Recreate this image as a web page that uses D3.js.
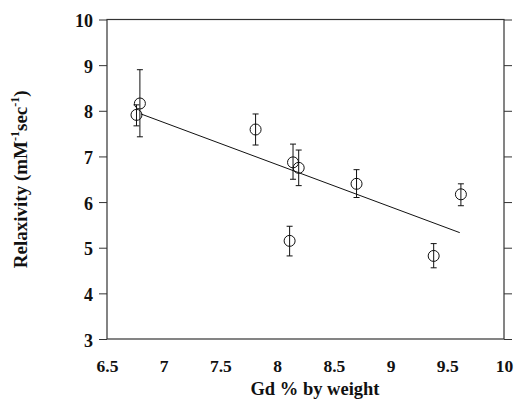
<!DOCTYPE html>
<html>
<head>
<meta charset="utf-8">
<script src="https://cdn.jsdelivr.net/npm/d3@7"></script>
<style>
  body { margin: 0; background: #fff; }
  text { font-family: "Liberation Serif", "DejaVu Serif", serif; font-weight: bold; fill: #111; }
</style>
</head>
<body>
<div id="chart"></div>
<script>
// Relaxivity vs Gd content, scatter with error bars and linear fit

// Data
var gdPercent  = [ 6.76, 6.79, 7.81, 8.14, 8.19, 8.70, 8.11, 9.38, 9.62 ];
var relaxivity = [ 7.91, 8.16, 7.59, 6.87, 6.75, 6.40, 5.15, 4.82, 6.17 ];
var errLow     = [ 7.67, 7.43, 7.25, 6.50, 6.36, 6.10, 4.82, 4.56, 5.92 ];
var errHigh    = [ 8.13, 8.90, 7.93, 7.27, 7.14, 6.71, 5.47, 5.09, 6.40 ];

// Fitted line end points
var fitX = [ 6.80, 9.61 ];
var fitY = [ 7.93, 5.33 ];

var xTicks = [ 6.5, 7, 7.5, 8, 8.5, 9, 9.5, 10 ];
var yTicks = [ 3, 4, 5, 6, 7, 8, 9, 10 ];

var width = 516;
var height = 400;
var margin = { top: 19.5, right: 12, bottom: 61, left: 107 };

var innerW = width - margin.left - margin.right;
var innerH = height - margin.top - margin.bottom;

var x = d3.scaleLinear().domain( [ 6.5, 10 ] ).range( [ 0, innerW ] );
var y = d3.scaleLinear().domain( [ 3, 10 ] ).range( [ innerH, 0 ] );

var svg = d3.select( '#chart' ).append( 'svg' )
  .attr( 'width', width )
  .attr( 'height', height );

var g = svg.append( 'g' )
  .attr( 'transform', 'translate(' + margin.left + ',' + margin.top + ')' );

// Frame
g.append( 'rect' )
  .attr( 'width', innerW )
  .attr( 'height', innerH )
  .attr( 'fill', 'none' )
  .attr( 'stroke', '#333' )
  .attr( 'stroke-width', 1.2 );

// Left axis: outward ticks with labels
var yAxis = g.append( 'g' )
  .call( d3.axisLeft( y ).tickValues( yTicks ).tickSize( 8 ).tickPadding( 6 ).tickFormat( d3.format( 'd' ) ) );
yAxis.select( '.domain' ).remove();
yAxis.selectAll( 'text' ).style( 'font-size', '18px' ).attr( 'fill', '#111' ).attr( 'dy', '0.4em' );
yAxis.selectAll( 'line' ).attr( 'stroke', '#333' );

// Right axis: outward ticks, no labels
var yAxisR = g.append( 'g' )
  .attr( 'transform', 'translate(' + innerW + ',0)' )
  .call( d3.axisRight( y ).tickValues( yTicks ).tickSize( 8 ).tickFormat( '' ) );
yAxisR.select( '.domain' ).remove();
yAxisR.selectAll( 'line' ).attr( 'stroke', '#333' );

// Bottom labels, no visible ticks
var xAxis = g.append( 'g' )
  .attr( 'transform', 'translate(0,' + innerH + ')' )
  .call( d3.axisBottom( x ).tickValues( xTicks ).tickSize( 0 ).tickPadding( 0 )
    .tickFormat( function( d ) { return String( d ); } ) );
xAxis.select( '.domain' ).remove();
xAxis.selectAll( 'text' )
  .style( 'font-size', '17.5px' )
  .attr( 'fill', '#111' )
  .attr( 'dy', null )
  .attr( 'y', 372 - margin.top - innerH );

// Axis titles
svg.append( 'text' )
  .attr( 'x', 315 )
  .attr( 'y', 395 )
  .attr( 'text-anchor', 'middle' )
  .style( 'font-size', '18.5px' )
  .text( 'Gd % by weight' );

var yTitle = svg.append( 'text' )
  .attr( 'transform', 'translate(27,' + ( margin.top + innerH / 2 ) + ') rotate(-90)' )
  .attr( 'text-anchor', 'middle' )
  .style( 'font-size', '19px' );
yTitle.append( 'tspan' ).text( 'Relaxivity (mM' );
yTitle.append( 'tspan' ).attr( 'dy', -8 ).style( 'font-size', '12px' ).text( '-1' );
yTitle.append( 'tspan' ).attr( 'dy', 8 ).text( 'sec' );
yTitle.append( 'tspan' ).attr( 'dy', -8 ).style( 'font-size', '12px' ).text( '-1' );
yTitle.append( 'tspan' ).attr( 'dy', 8 ).text( ')' );

// Fit line
g.append( 'line' )
  .attr( 'x1', x( fitX[ 0 ] ) )
  .attr( 'y1', y( fitY[ 0 ] ) )
  .attr( 'x2', x( fitX[ 1 ] ) )
  .attr( 'y2', y( fitY[ 1 ] ) )
  .attr( 'stroke', '#111' )
  .attr( 'stroke-width', 1 );

var points = d3.range( gdPercent.length ).map( function( i ) {
  return { x: gdPercent[ i ], y: relaxivity[ i ], lo: errLow[ i ], hi: errHigh[ i ] };
} );

// Error bars
var capW = 3;
var bars = g.selectAll( '.err' )
  .data( points )
  .enter().append( 'g' )
  .attr( 'class', 'err' )
  .attr( 'stroke', '#111' )
  .attr( 'stroke-width', 1 );
bars.append( 'line' )
  .attr( 'x1', function( d ) { return x( d.x ); } )
  .attr( 'x2', function( d ) { return x( d.x ); } )
  .attr( 'y1', function( d ) { return y( d.lo ); } )
  .attr( 'y2', function( d ) { return y( d.hi ); } );
bars.append( 'line' )
  .attr( 'x1', function( d ) { return x( d.x ) - capW; } )
  .attr( 'x2', function( d ) { return x( d.x ) + capW; } )
  .attr( 'y1', function( d ) { return y( d.hi ); } )
  .attr( 'y2', function( d ) { return y( d.hi ); } );
bars.append( 'line' )
  .attr( 'x1', function( d ) { return x( d.x ) - capW; } )
  .attr( 'x2', function( d ) { return x( d.x ) + capW; } )
  .attr( 'y1', function( d ) { return y( d.lo ); } )
  .attr( 'y2', function( d ) { return y( d.lo ); } );

// Open circle markers
g.selectAll( '.pt' )
  .data( points )
  .enter().append( 'circle' )
  .attr( 'class', 'pt' )
  .attr( 'cx', function( d ) { return x( d.x ); } )
  .attr( 'cy', function( d ) { return y( d.y ); } )
  .attr( 'r', 5.5 )
  .attr( 'fill', 'none' )
  .attr( 'stroke', '#111' )
  .attr( 'stroke-width', 1 );
</script>
</body>
</html>
